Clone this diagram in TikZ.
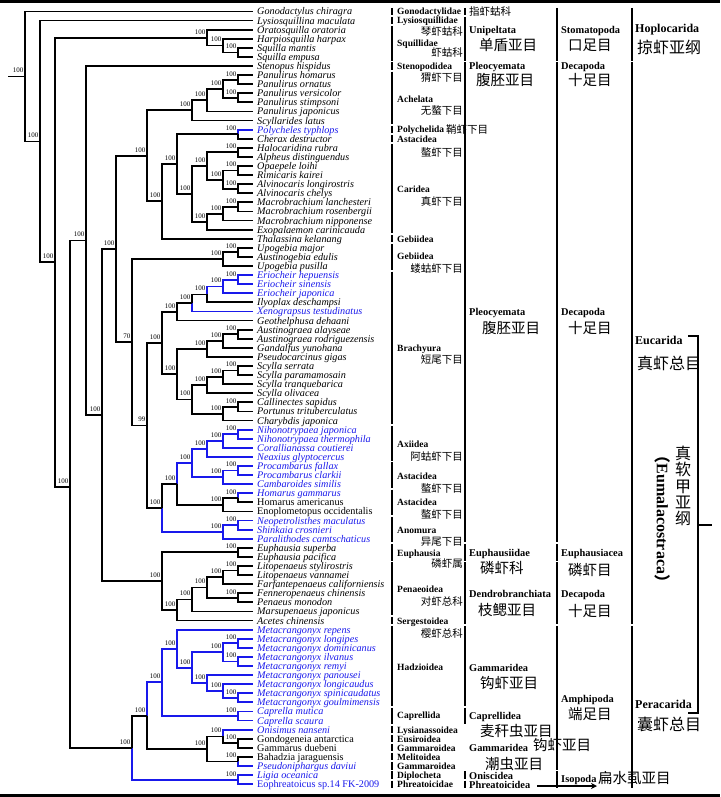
\documentclass[tikz,border=0pt]{standalone}
\usepackage{fontspec}
\setmainfont{Liberation Serif}
\newfontfamily\cjk{Noto Sans CJK SC}
\usetikzlibrary{calc,arrows.meta}
\definecolor{tb}{RGB}{25,25,235}
\newcounter{lbc}
\newcommand\rowy[1]{(11.5+(#1-1)*9.09)}
\newcommand\tip[3][]{\coordinate (t#2) at (253,{\rowy{#2}});
  \node[tipname,#1] (n#2) at (257,{\rowy{#2}}) {#3};}
\newcommand\nd[7]{%
  \path let \p1=(#3), \p2=(#4) in coordinate (#1) at (#2pt,{0.5*(\y1+\y2)});
  \draw[br,#6] (#1) |- (#3);
  \draw[br,#7] (#1) |- (#4);
  \node[bs] (L#1) at (#1) {#5};}
\newcommand\ndY[8]{%
  \coordinate (#1) at (#2,#3);
  \draw[br,#7] (#1) |- (#4);
  \draw[br,#8] (#1) |- (#5);
  \node[bs] (L#1) at (#1) {#6};}
\newcommand\cb[3]{\draw[bar] (#1,{\rowy{#2}-3.6}) -- (#1,{\rowy{#3}+3.6});}
\newcommand\lb[4]{\stepcounter{lbc}\node[#1] (lb\arabic{lbc}) at (#2,#3) {#4};}
\begin{document}
\begin{tikzpicture}[x=1pt,y=-1pt,
  br/.style={line width=1.8pt},
  bar/.style={line width=2.2pt},
  tipname/.style={font=\itshape\fontsize{10.2}{10.2}\selectfont, anchor=base west, inner sep=0pt, yshift=-3.5pt},
  up/.style={font=\fontsize{10.2}{10.2}\selectfont},
  blu/.style={text=tb},
  bs/.style={font=\fontsize{7}{7}\selectfont, anchor=base east, inner sep=0pt, xshift=-1.5pt, yshift=3.6pt},
  c1l/.style={font=\bfseries\fontsize{9.5}{9.5}\selectfont, anchor=base west, inner sep=0pt, yshift=-3.2pt},
  c1c/.style={font=\cjk\fontsize{10.5}{10.5}\selectfont, anchor=base east, inner sep=0pt, yshift=-4pt},
  c1cw/.style={c1c, anchor=base west},
  c2l/.style={font=\bfseries\fontsize{10.4}{10.4}\selectfont, anchor=base west, inner sep=0pt, yshift=-3.5pt},
  c2c/.style={font=\cjk\fontsize{14.5}{14.5}\selectfont, anchor=base west, inner sep=0pt, yshift=-5.5pt},
  c4l/.style={font=\bfseries\fontsize{12}{12}\selectfont, anchor=base west, inner sep=0pt, yshift=-4pt},
  c4c/.style={font=\cjk\fontsize{16}{16}\selectfont, anchor=base west, inner sep=0pt, yshift=-6pt}]
\useasboundingbox (0,0) rectangle (720,797);
\fill (0,0) rectangle (720,3.2);
\fill (0,794) rectangle (720,797);
% tips
\tip{1}{Gonodactylus chiragra}
\tip{2}{Lysiosquillina maculata}
\tip{3}{Oratosquilla oratoria}
\tip{4}{Harpiosquilla harpax}
\tip{5}{Squilla mantis}
\tip{6}{Squilla empusa}
\tip{7}{Stenopus hispidus}
\tip{8}{Panulirus homarus}
\tip{9}{Panulirus ornatus}
\tip{10}{Panulirus versicolor}
\tip{11}{Panulirus stimpsoni}
\tip{12}{Panulirus japonicus}
\tip{13}{Scyllarides latus}
\tip[blu]{14}{Polycheles typhlops}
\tip{15}{Cherax destructor}
\tip{16}{Halocaridina rubra}
\tip{17}{Alpheus distinguendus}
\tip{18}{Opaepele loihi}
\tip{19}{Rimicaris kairei}
\tip{20}{Alvinocaris longirostris}
\tip{21}{Alvinocaris chelys}
\tip{22}{Macrobrachium lanchesteri}
\tip{23}{Macrobrachium rosenbergii}
\tip{24}{Macrobrachium nipponense}
\tip{25}{Exopalaemon carinicauda}
\tip{26}{Thalassina kelanang}
\tip{27}{Upogebia major}
\tip{28}{Austinogebia edulis}
\tip{29}{Upogebia pusilla}
\tip[blu]{30}{Eriocheir hepuensis}
\tip[blu]{31}{Eriocheir sinensis}
\tip[blu]{32}{Eriocheir japonica}
\tip{33}{Ilyoplax deschampsi}
\tip[blu]{34}{Xenograpsus testudinatus}
\tip{35}{Geothelphusa dehaani}
\tip{36}{Austinograea alayseae}
\tip{37}{Austinograea rodriguezensis}
\tip{38}{Gandalfus yunohana}
\tip{39}{Pseudocarcinus gigas}
\tip{40}{Scylla serrata}
\tip{41}{Scylla paramamosain}
\tip{42}{Scylla tranquebarica}
\tip{43}{Scylla olivacea}
\tip{44}{Callinectes sapidus}
\tip{45}{Portunus trituberculatus}
\tip{46}{Charybdis japonica}
\tip[blu]{47}{Nihonotrypaea japonica}
\tip[blu]{48}{Nihonotrypaea thermophila}
\tip[blu]{49}{Corallianassa coutierei}
\tip[blu]{50}{Neaxius glyptocercus}
\tip[blu]{51}{Procambarus fallax}
\tip[blu]{52}{Procambarus clarkii}
\tip[blu]{53}{Cambaroides similis}
\tip[blu]{54}{Homarus gammarus}
\tip[up]{55}{Homarus americanus}
\tip[up]{56}{Enoplometopus occidentalis}
\tip[blu]{57}{Neopetrolisthes maculatus}
\tip[blu]{58}{Shinkaia crosnieri}
\tip[blu]{59}{Paralithodes camtschaticus}
\tip{60}{Euphausia superba}
\tip{61}{Euphausia pacifica}
\tip{62}{Litopenaeus stylirostris}
\tip{63}{Litopenaeus vannamei}
\tip{64}{Farfantepenaeus californiensis}
\tip{65}{Fenneropenaeus chinensis}
\tip{66}{Penaeus monodon}
\tip{67}{Marsupenaeus japonicus}
\tip{68}{Acetes chinensis}
\tip[blu]{69}{Metacrangonyx repens}
\tip[blu]{70}{Metacrangonyx longipes}
\tip[blu]{71}{Metacrangonyx dominicanus}
\tip[blu]{72}{Metacrangonyx ilvanus}
\tip[blu]{73}{Metacrangonyx remyi}
\tip[blu]{74}{Metacrangonyx panousei}
\tip[blu]{75}{Metacrangonyx longicaudus}
\tip[blu]{76}{Metacrangonyx spinicaudatus}
\tip[blu]{77}{Metacrangonyx goulmimensis}
\tip[blu]{78}{Caprella mutica}
\tip[blu]{79}{Caprella scaura}
\tip[blu]{80}{Onisimus nanseni}
\tip[up]{81}{Gondogeneia antarctica}
\tip[up]{82}{Gammarus duebeni}
\tip[up]{83}{Bahadzia jaraguensis}
\tip[blu]{84}{Pseudoniphargus daviui}
\tip[blu]{85}{Ligia oceanica}
\tip[up,blu]{86}{Eophreatoicus sp.14 FK-2009}
% Stomatopoda
\nd{S3}{238}{t5}{t6}{100}{}{}
\nd{S2}{223}{t4}{S3}{100}{}{}
\nd{S1}{207}{t3}{S2}{100}{}{}
% Achelata
\nd{P3}{238}{t8}{t9}{100}{}{}
\nd{P4}{238}{t10}{t11}{100}{}{}
\nd{P2}{223}{P3}{P4}{100}{}{}
\nd{P1}{207}{P2}{t12}{100}{}{}
\nd{AC}{192}{P1}{t13}{100}{}{}
\nd{PC}{238}{t14}{t15}{100}{tb}{}
% Caridea
\nd{HA}{238}{t16}{t17}{100}{}{}
\nd{OR}{238}{t18}{t19}{100}{}{}
\nd{AL}{238}{t20}{t21}{100}{}{}
\nd{N13}{223}{OR}{AL}{100}{}{}
\nd{N11}{207}{HA}{N13}{100}{}{}
\nd{M2}{238}{t22}{t23}{100}{}{}
\nd{M1}{223}{M2}{t24}{100}{}{}
\nd{N12}{207}{M1}{t25}{100}{}{}
\nd{N10}{192}{N11}{N12}{100}{}{}
\nd{N9}{177}{PC}{N10}{100}{}{}
\nd{N8}{162}{N9}{t26}{100}{}{}
\nd{N7a}{147}{AC}{N8}{100}{}{}
% Gebiidea
\nd{UA}{238}{t27}{t28}{100}{}{}
\nd{G2}{223}{UA}{t29}{100}{}{}
% Brachyura
\nd{E1}{238}{t30}{t31}{100}{tb}{tb}
\nd{E2}{223}{E1}{t32}{100}{tb}{tb}
\nd{E3}{207}{E2}{t33}{100}{tb}{}
\nd{B3}{192}{E3}{t34}{100}{}{tb}
\nd{B1}{177}{B3}{t35}{100}{}{}
\nd{AU}{238}{t36}{t37}{100}{}{}
\nd{B6}{223}{AU}{t38}{100}{}{}
\nd{B4}{207}{B6}{t39}{100}{}{}
\nd{SP}{238}{t40}{t41}{100}{}{}
\nd{B9}{223}{SP}{t42}{100}{}{}
\nd{B7}{207}{B9}{t43}{100}{}{}
\nd{CP}{238}{t44}{t45}{100}{}{}
\nd{B8}{223}{CP}{t46}{100}{}{}
\nd{B5}{192}{B7}{B8}{100}{}{}
\nd{B2}{177}{B4}{B5}{100}{}{}
\nd{BR}{162}{B1}{B2}{100}{}{}
% Axiidea, Astacidea, Anomura
\nd{AX1}{238}{t47}{t48}{100}{tb}{tb}
\nd{AX2}{223}{AX1}{t49}{100}{tb}{tb}
\nd{AX3}{207}{AX2}{t50}{100}{tb}{tb}
\nd{AS1}{238}{t51}{t52}{100}{tb}{tb}
\nd{AS2}{223}{AS1}{t53}{100}{tb}{tb}
\nd{X1}{192}{AX3}{AS2}{100}{tb}{tb}
\nd{HH}{238}{t54}{t55}{100}{tb}{}
\nd{X2}{223}{HH}{t56}{100}{}{}
\nd{X}{177}{X1}{X2}{100}{tb}{}
\nd{NS}{238}{t57}{t58}{100}{tb}{tb}
\nd{AN}{223}{NS}{t59}{100}{tb}{tb}
\nd{AAA}{162}{X}{AN}{100}{}{tb}
\nd{N14}{147}{BR}{AAA}{99}{}{}
\nd{N7b}{132}{G2}{N14}{70}{}{}
\nd{N6}{116}{N7a}{N7b}{100}{}{}
% Euphausiacea + Dendrobranchiata
\nd{EU}{238}{t60}{t61}{100}{}{}
\nd{LI}{238}{t62}{t63}{100}{}{}
\nd{D4}{223}{LI}{t64}{100}{}{}
\nd{FP}{238}{t65}{t66}{100}{}{}
\nd{D3}{207}{D4}{FP}{100}{}{}
\nd{D2}{192}{D3}{t67}{100}{}{}
\nd{D1}{177}{D2}{t68}{100}{}{}
\nd{EP}{162}{EU}{D1}{100}{}{}
\nd{N5}{102}{N6}{EP}{100}{}{}
\nd{N4}{86}{t7}{N5}{100}{}{}
% Peracarida
\nd{MLD}{238}{t70}{t71}{100}{tb}{tb}
\nd{MIR}{238}{t72}{t73}{100}{tb}{tb}
\nd{ME}{223}{MLD}{MIR}{100}{tb}{tb}
\nd{MSG}{238}{t76}{t77}{100}{tb}{tb}
\nd{MG}{223}{t75}{MSG}{100}{tb}{tb}
\nd{MF}{207}{t74}{MG}{100}{tb}{tb}
\nd{MD}{192}{ME}{MF}{100}{tb}{tb}
\nd{MC}{177}{t69}{MD}{100}{tb}{tb}
\nd{CA}{238}{t78}{t79}{100}{tb}{tb}
\nd{PB}{162}{MC}{CA}{100}{tb}{tb}
\nd{GG}{238}{t81}{t82}{100}{}{}
\nd{PD}{223}{t80}{GG}{100}{tb}{}
\nd{PF}{238}{t83}{t84}{100}{}{tb}
\nd{PC2}{207}{PD}{PF}{100}{}{}
\nd{PA}{147}{PB}{PC2}{100}{tb}{}
\nd{LE}{238}{t85}{t86}{100}{tb}{tb}
\nd{PE}{132}{PA}{LE}{100}{}{tb}
\ndY{N3}{70}{487}{N4}{PE}{100}{}{}
\nd{N2}{55}{S1}{N3}{100}{}{}
\nd{N1}{40}{t2}{N2}{100}{}{}
\nd{root}{25}{t1}{N1}{100}{}{}
\path let \p1=(root) in coordinate (rs) at (8pt,\y1);
\draw[br] (rs) -- (root);
% column bars
\cb{392}{1}{1}\cb{392}{2}{2}\cb{392}{3}{6}\cb{392}{7}{7}\cb{392}{8}{13}
\cb{392}{14}{14}\cb{392}{15}{15}\cb{392}{16}{25}\cb{392}{26}{26}\cb{392}{27}{29}
\cb{392}{30}{46}\cb{392}{47}{50}\cb{392}{51}{53}\cb{392}{54}{56}\cb{392}{57}{59}
\cb{392}{60}{61}\cb{392}{62}{67}\cb{392}{68}{68}\cb{392}{69}{77}\cb{392}{78}{79}
\cb{392}{80}{80}\cb{392}{81}{81}\cb{392}{82}{82}\cb{392}{83}{83}\cb{392}{84}{84}
\cb{392}{85}{85}\cb{392}{86}{86}
\cb{465}{1}{1}\cb{465}{2}{6}\cb{465}{7}{59}\cb{465}{60}{61}\cb{465}{62}{68}
\cb{465}{69}{77}\cb{465}{78}{79}\cb{465}{85}{85}\cb{465}{86}{86}
\cb{557}{1}{6}\cb{557}{7}{59}\cb{557}{60}{61}\cb{557}{62}{68}\cb{557}{69}{84}\cb{557}{85}{86}
\cb{632}{1}{6}\cb{632}{7}{68}\cb{632}{69}{86}
% column 1 labels
\lb{c1l}{397}{11.5}{Gonodactylidae}
\lb{c1l}{397}{20.6}{Lysiosquillidae}
\lb{c1c}{463}{32}{琴虾蛄科}
\lb{c1l}{397}{43}{Squillidae}
\lb{c1c}{463}{52.5}{虾蛄科}
\lb{c1l}{397}{66}{Stenopodidea}
\lb{c1c}{463}{77.5}{猬虾下目}
\lb{c1l}{397}{99}{Achelata}
\lb{c1c}{463}{111}{无螯下目}
\lb{c1l}{397}{129.7}{Polychelida}
\lb{c1cw}{446}{129.7}{鞘虾下目}
\lb{c1l}{397}{139}{Astacidea}
\lb{c1c}{463}{152}{螯虾下目}
\lb{c1l}{397}{189}{Caridea}
\lb{c1c}{463}{201}{真虾下目}
\lb{c1l}{397}{239}{Gebiidea}
\lb{c1l}{397}{256}{Gebiidea}
\lb{c1c}{463}{268}{蝼蛄虾下目}
\lb{c1l}{397}{348}{Brachyura}
\lb{c1c}{463}{359.5}{短尾下目}
\lb{c1l}{397}{444}{Axiidea}
\lb{c1c}{463}{456}{阿蛄虾下目}
\lb{c1l}{397}{476}{Astacidea}
\lb{c1c}{463}{488}{螯虾下目}
\lb{c1l}{397}{502}{Astacidea}
\lb{c1c}{463}{514}{螯虾下目}
\lb{c1l}{397}{530}{Anomura}
\lb{c1c}{463}{541}{异尾下目}
\lb{c1l}{397}{553}{Euphausia}
\lb{c1c}{463}{563.5}{磷虾属}
\lb{c1l}{397}{589}{Penaeoidea}
\lb{c1c}{463}{601}{对虾总科}
\lb{c1l}{397}{621}{Sergestoidea}
\lb{c1c}{463}{633}{樱虾总科}
\lb{c1l}{397}{667}{Hadzioidea}
\lb{c1l}{397}{715}{Caprellida}
\lb{c1l}{397}{730}{Lysianassoidea}
\lb{c1l}{397}{739}{Eusiroidea}
\lb{c1l}{397}{748}{Gammaroidea}
\lb{c1l}{397}{757}{Melitoidea}
\lb{c1l}{397}{766}{Gammaroidea}
\lb{c1l}{397}{775}{Diplocheta}
\lb{c1l}{397}{784}{Phreatoicidae}
% column 2 labels
\lb{c1cw}{469}{11.5}{指虾蛄科}
\lb{c2l}{469}{30}{Unipeltata}
\lb{c2c}{479}{45.5}{单盾亚目}
\lb{c2l}{469}{66}{Pleocyemata}
\lb{c2c}{476}{80}{腹胚亚目}
\lb{c2l}{469}{312}{Pleocyemata}
\lb{c2c}{482}{328}{腹胚亚目}
\lb{c2l}{469}{553}{Euphausiidae}
\lb{c2c}{480}{568}{磷虾科}
\lb{c2l}{469}{594}{Dendrobranchiata}
\lb{c2c}{478}{610}{枝鳃亚目}
\lb{c2l}{469}{668}{Gammaridea}
\lb{c2c}{480}{683}{钩虾亚目}
\lb{c2l}{469}{716}{Caprellidea}
\lb{c2c}{480}{731}{麦秆虫亚目}
\lb{c2l}{469}{748}{Gammaridea}
\lb{c2c}{533}{745}{钩虾亚目}
\lb{c2c}{485}{764}{潮虫亚目}
\lb{c2l}{469}{776}{Oniscidea}
\lb{c2l}{469}{785}{Phreatoicidea}
% column 3 labels
\lb{c2l}{561}{30}{Stomatopoda}
\lb{c2c}{568}{45.5}{口足目}
\lb{c2l}{561}{66}{Decapoda}
\lb{c2c}{568}{80}{十足目}
\lb{c2l}{561}{312}{Decapoda}
\lb{c2c}{568}{328}{十足目}
\lb{c2l}{561}{553}{Euphausiacea}
\lb{c2c}{568}{570}{磷虾目}
\lb{c2l}{561}{594}{Decapoda}
\lb{c2c}{568}{611}{十足目}
\lb{c2l}{561}{699}{Amphipoda}
\lb{c2c}{568}{714}{端足目}
\lb{c2l}{561}{779}{Isopoda}
\lb{c2c}{598}{778}{扁水虱亚目}
% column 4 labels
\lb{c4l}{635}{29}{Hoplocarida}
\lb{c4c}{637}{48}{掠虾亚纲}
\lb{c4l}{635}{340}{Eucarida}
\lb{c4c}{637}{363}{真虾总目}
\lb{c4l}{635}{704}{Peracarida}
\lb{c4c}{637}{724}{囊虾总目}
% Eumalacostraca
\node[font=\cjk\fontsize{16}{16.4}\selectfont, align=center, inner sep=0pt] (zrj) at (683,486) {真\\软\\甲\\亚\\纲};
\node[font=\bfseries\fontsize{16}{16}\selectfont, rotate=-90, inner sep=0pt] (eum) at (663,519) {{\cjk （}Eumalacostraca{\cjk ）}};
% bracket
\coordinate (bt1) at (688,336); \coordinate (bt2) at (698,336);
\coordinate (bb1) at (688,713); \coordinate (bb2) at (698,713);
\coordinate (bm1) at (698,525); \coordinate (bm2) at (712,525);
\draw[line width=1.3pt] (bt1) -- (bt2) -- (bb2) -- (bb1);
\draw[line width=1.3pt] (bm1) -- (bm2);
% arrow
\coordinate (aS) at (537,786); \coordinate (aE) at (597,786);
\draw[line width=1.6pt,-{Stealth[length=6pt,width=6pt]}] (aS) -- (aE);
\end{tikzpicture}
\end{document}
